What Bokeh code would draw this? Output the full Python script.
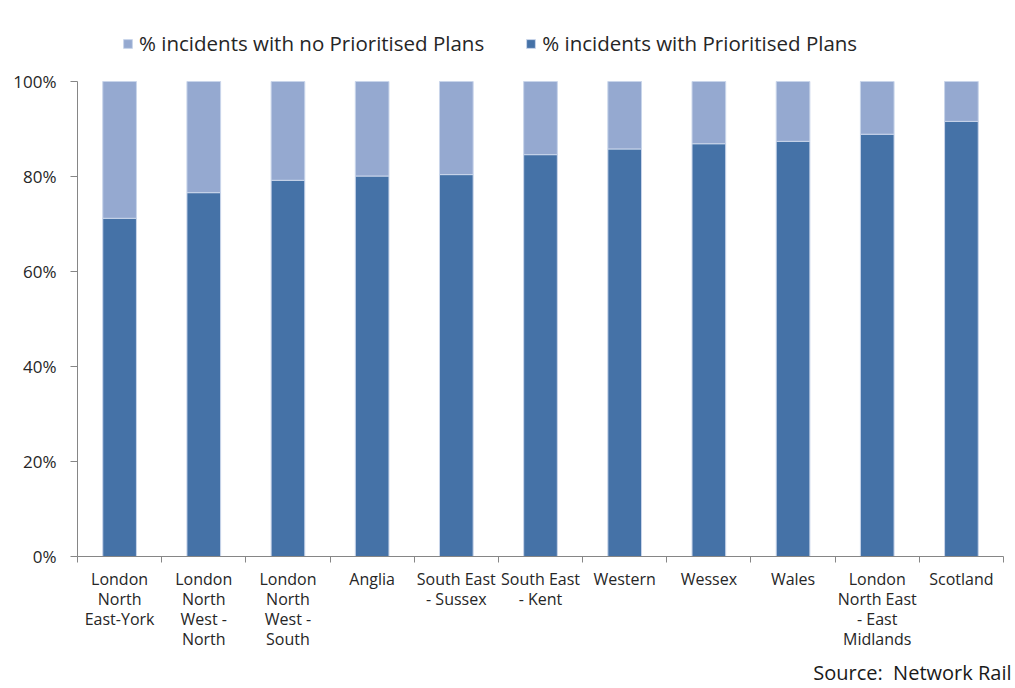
from bokeh.plotting import figure
from bokeh.models import (ColumnDataSource, Range1d, FixedTicker, Legend, LegendItem,
                          Title, PrintfTickFormatter)
from bokeh.embed import file_html
from bokeh.resources import INLINE

# ---- data ----
regions = ["London\nNorth\nEast-York", "London\nNorth\nWest -\nNorth", "London\nNorth\nWest -\nSouth",
           "Anglia", "South East\n- Sussex", "South East\n- Kent", "Western", "Wessex", "Wales",
           "London\nNorth East\n- East\nMidlands", "Scotland"]
with_plans = [71.2, 76.6, 79.2, 80.1, 80.4, 84.6, 85.8, 86.9, 87.4, 88.9, 91.6]
no_plans = [round(100 - v, 1) for v in with_plans]
y_ticks = [0, 20, 40, 60, 80, 100]
series_labels = ["% incidents with no Prioritised Plans", "% incidents with Prioritised Plans"]
source_text = "Source:\u00a0 Network Rail"

FONT = "Open Sans"
DARK = "#4572A7"
LIGHT = "#95A9D0"

centers = [i + 0.5 for i in range(len(regions))]
bounds = list(range(len(regions) + 1))

src = ColumnDataSource(dict(x=centers, with_plans=with_plans, no_plans=no_plans))

# layout (screen pixels)
W, H = 1015, 688
FRAME_L, FRAME_R, FRAME_T, FRAME_B = 77, 1003, 20, 556
Y100 = 81  # pixel row of the 100% line
y_top = 100 * (FRAME_B - FRAME_T) / (FRAME_B - Y100)

p = figure(width=W, height=H, output_backend="svg", toolbar_location=None,
           x_range=Range1d(0, len(regions)), y_range=Range1d(0, y_top),
           min_border_left=FRAME_L, min_border_right=W - FRAME_R, min_border_top=FRAME_T,
           min_border_bottom=H - FRAME_B)
p.outline_line_color = None
p.xgrid.visible = False
p.ygrid.visible = False

rs = p.vbar_stack(["with_plans", "no_plans"], x="x", width=0.4, source=src,
                  color=[DARK, LIGHT], line_color="#c9d5ea", line_width=1)

# axes
xa = p.xaxis[0]
xa.ticker = FixedTicker(ticks=centers, minor_ticks=bounds)
xa.major_label_overrides = {c: r for c, r in zip(centers, regions)}
xa.major_tick_line_color = None
xa.major_tick_out = 0
xa.major_tick_in = 0
xa.minor_tick_out = 6
xa.minor_tick_in = 0
xa.minor_tick_line_color = "#868686"
xa.axis_line_color = "#868686"
xa.major_label_text_font = FONT
xa.major_label_text_font_size = "16px"
xa.major_label_text_color = "#262626"
xa.major_label_text_line_height = 0.92
xa.major_label_standoff = 5

ya = p.yaxis[0]
ya.bounds = (0, 100)
ya.ticker = FixedTicker(ticks=y_ticks, minor_ticks=[])
ya.formatter = PrintfTickFormatter(format="%d%%")
ya.major_tick_out = 7
ya.major_tick_in = 0
ya.major_tick_line_color = "#868686"
ya.axis_line_color = "#868686"
ya.major_label_text_font = FONT
ya.major_label_text_font_size = "17px"
ya.major_label_text_color = "#262626"
ya.major_label_standoff = 14

legend = Legend(items=[LegendItem(label=series_labels[0], renderers=[rs[1]]),
                       LegendItem(label=series_labels[1], renderers=[rs[0]])],
                orientation="horizontal", location=(45, 499),
                border_line_color=None, background_fill_alpha=0,
                padding=0, margin=0, spacing=41,
                glyph_width=11, glyph_height=11, label_standoff=6,
                label_text_font=FONT, label_text_font_size="20.5px",
                label_text_color="#262626")
p.add_layout(legend, "center")

p.add_layout(Title(text=source_text, align="right", text_font=FONT, text_font_size="20px",
                   text_font_style="normal", text_color="#1a1a1a",
                   standoff=6, offset=-8),
             "below")

open("out.html", "w").write(file_html(p, INLINE))
